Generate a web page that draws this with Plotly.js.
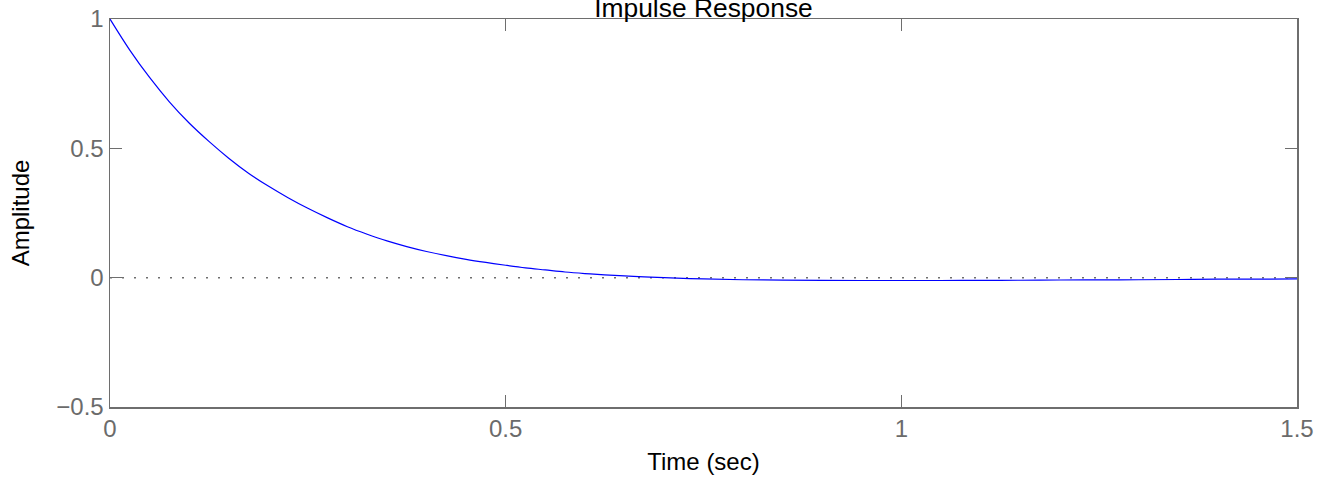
<!DOCTYPE html>
<html>
<head>
<meta charset="utf-8">
<script src="https://cdn.plot.ly/plotly-3.0.1.min.js"></script>
<style>html,body{margin:0;padding:0;background:#fff;}#chart{width:1331px;height:486px;}</style>
</head>
<body>
<div id="chart"></div>
<script>
// Impulse response samples
const timeSec = [0, 0.025, 0.05, 0.075, 0.1, 0.125, 0.15, 0.175, 0.2, 0.225, 0.25, 0.275, 0.3, 0.325, 0.35, 0.375, 0.4, 0.425, 0.45, 0.475, 0.5, 0.525, 0.55, 0.575, 0.6, 0.625, 0.65, 0.675, 0.7, 0.75, 0.8, 0.85, 0.9, 0.95, 1.0, 1.05, 1.1, 1.15, 1.2, 1.25, 1.3, 1.35, 1.4, 1.45, 1.5];
const amplitude = [1.000, 0.880, 0.774, 0.680, 0.598, 0.527, 0.462, 0.404, 0.354, 0.309, 0.268, 0.231, 0.197, 0.168, 0.142, 0.120, 0.101, 0.085, 0.071, 0.059, 0.048, 0.038, 0.030, 0.022, 0.016, 0.011, 0.007, 0.003, 0.000, -0.005, -0.008, -0.0095, -0.0105, -0.011, -0.011, -0.011, -0.0105, -0.010, -0.009, -0.0085, -0.008, -0.007, -0.006, -0.0055, -0.005];
// zero reference line
const zeroX = [0, 1.5];
const zeroY = [0, 0];
// ticks
const xTicks = [0, 0.5, 1, 1.5];
const xTickText = ['0', '0.5', '1', '1.5'];
const yTicks = [-0.5, 0, 0.5, 1];
const yTickText = ['\u22120.5', '0', '0.5', '1'];

const axisColor = '#6e6e6e';
const fontFam = '"Liberation Sans", Arial, Helvetica, sans-serif';

const traces = [
  {x: zeroX, y: zeroY, mode: 'lines', line: {color: '#6e6e6e', width: 1.5, dash: '2px,10px'}, hoverinfo: 'skip', showlegend: false},
  {x: timeSec, y: amplitude, mode: 'lines', line: {color: '#0000ff', width: 1.2, shape: 'spline', smoothing: 1}, showlegend: false}
];

const layout = {
  width: 1331, height: 486,
  margin: {l: 110, r: 34, t: 19, b: 79, pad: 0},
  paper_bgcolor: '#ffffff', plot_bgcolor: '#ffffff',
  font: {family: fontFam, size: 24, color: '#000'},
  showlegend: false,
  title: {text: 'Impulse Response', font: {family: fontFam, size: 26.4, color: '#000'}, x: 0.5, xref: 'paper', y: 1, yref: 'paper', yanchor: 'bottom', pad: {b: 2}},
  xaxis: {
    range: [0, 1.5], tickvals: xTicks, ticktext: xTickText,
    showgrid: false, zeroline: false, showline: true, mirror: 'ticks',
    linecolor: axisColor, linewidth: 1.5,
    ticks: 'inside', ticklen: 12, tickwidth: 1.5, tickcolor: axisColor,
    tickfont: {family: fontFam, size: 24, color: '#6b6b6b'},
    title: {text: 'Time (sec)', font: {family: fontFam, size: 24, color: '#000'}, standoff: 12}
  },
  yaxis: {
    range: [-0.5, 1], tickvals: yTicks, ticktext: yTickText,
    showgrid: false, zeroline: false, showline: true, mirror: 'ticks',
    linecolor: axisColor, linewidth: 1.5,
    ticks: 'inside', ticklen: 12, tickwidth: 1.5, tickcolor: axisColor,
    tickfont: {family: fontFam, size: 24, color: '#6b6b6b'},
    title: {text: 'Amplitude', font: {family: fontFam, size: 24, color: '#000'}, standoff: 20}
  }
};

Plotly.newPlot('chart', traces, layout, {displayModeBar: false, staticPlot: true});
</script>
</body>
</html>
